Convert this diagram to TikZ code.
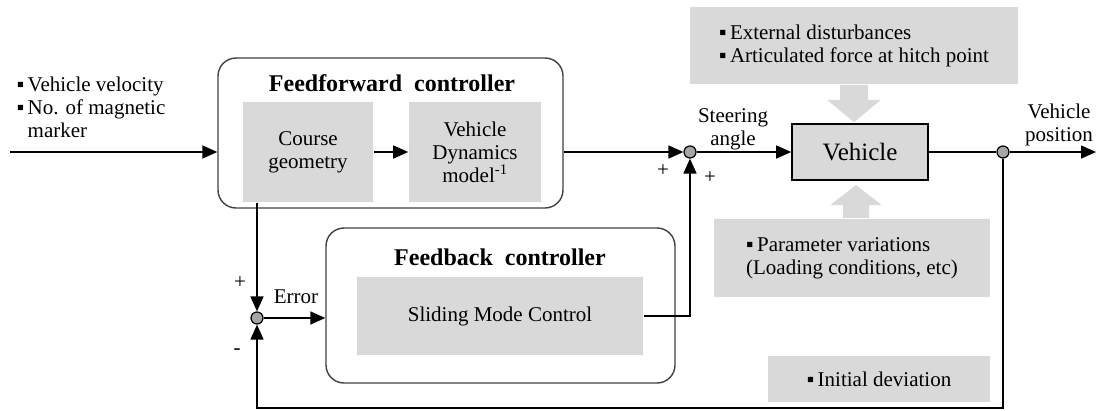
\documentclass[tikz,border=0pt]{standalone}
\usepackage{fontspec}
\setmainfont{Liberation Serif}
\usetikzlibrary{arrows.meta,calc}
\definecolor{boxgray}{RGB}{217,217,217}
\definecolor{sumgray}{RGB}{166,166,166}
\definecolor{edgegray}{RGB}{64,64,64}

\begin{document}
\begin{tikzpicture}
  [x=1pt,y=-1pt,line width=1.6pt,>={Triangle[length=15pt,width=13pt]},
   every node/.style={font=\fontsize{21}{23}\selectfont,inner sep=0pt},
   roundbox/.style={draw=edgegray,line width=1.4pt,rounded corners=18pt},
   graybox/.style={fill=boxgray,align=center},
   title/.style={font=\fontsize{24}{26}\selectfont\bfseries},
   sumpt/.style={circle,draw,fill=sumgray,line width=1.2pt,minimum size=12pt}]
  \useasboundingbox (0,0) rectangle (1096,410);

  % controllers
  \node [roundbox,minimum width=345pt,minimum height=150pt] (ff) at (390.5,133) {};
  \node [title] (fftitle) at (392,83) {Feedforward\ \ controller};
  \node [graybox,minimum width=130pt,minimum height=100pt] (course) at (308,152) {Course\\geometry};
  \node [graybox,minimum width=132pt,minimum height=100pt] (vdm) at (475,152) {Vehicle\\Dynamics\\model\textsuperscript{-1}};
  \node [roundbox,minimum width=349pt,minimum height=155pt] (fb) at (500.5,305.5) {};
  \node [title] (fbtitle) at (500,257) {Feedback\ \ controller};
  \node [graybox,minimum width=286pt,minimum height=78pt] (smc) at (500,316) {Sliding Mode Control};

  % plant and disturbances
  \node [graybox,draw,line width=1.6pt,minimum width=136pt,minimum height=56pt,font=\fontsize{25}{28}\selectfont] (veh) at (860,152) {Vehicle};
  \node [graybox,align=left,minimum width=328pt,minimum height=77pt] (dist) at (854,45.5) {▪\,External disturbances\\▪\,Articulated force at hitch point};
  \node [graybox,align=left,minimum width=276pt,minimum height=78pt] (param) at (852,258) {▪\,Parameter variations\\(Loading conditions, etc)};
  \node [graybox,minimum width=222pt,minimum height=46pt] (init) at (879,379) {▪\,Initial deviation};

  \node [sumpt] (sum1) at (690,152) {};
  \node [sumpt] (out) at (1003,152) {};
  \node [sumpt] (err) at (257,318) {};
  \coordinate (in) at (10,152);
  \coordinate (outend) at (1096,152);
  \coordinate (fbR) at (1003,408);
  \coordinate (fbL) at (257,408);

  % labels
  \node [align=left,anchor=west] (inputs) at (16,107) {▪\,Vehicle velocity\\▪\,No. of magnetic\\\phantom{▪\,}marker};
  \node [align=center] (steer) at (733,129) {Steering\\angle};
  \node [align=center] (vpos) at (1059,125) {Vehicle\\position};
  \node (errlbl) at (296,297) {Error};
  \node (p1) at (663,171) {+};
  \node (p2) at (710,178) {+};
  \node (p3) at (240,283) {+};
  \node (m1) at (237,352) {-};

  % thick gray arrows
  \fill [boxgray] ($(dist.south)+(-14,0)$) -- ++(0,15) -- ++(-13,0) -- ($(dist.south |- veh.north)+(0,-1)$)
    -- ($(dist.south)+(27,15)$) -- ++(-13,0) -- ++(0,-15) -- cycle;
  \fill [boxgray] ($(param.north)+(-9,0)$) -- ++(0,-13) -- ++(-13,0) -- ($(param.north)+(4,-33)$)
    -- ($(param.north)+(30,-13)$) -- ++(-13,0) -- ++(0,13) -- cycle;

  % signal lines
  \foreach \from/\to in {course/vdm,sum1/veh,out/outend}
    \draw [->] (\from) -- (\to);
  \draw [->] (in) -- (in -| ff.west);
  \draw [->] (sum1 -| ff.east) -- (sum1);
  \draw (veh) -- (out);
  \draw [->] (out) -- (fbR) -- (fbL) -- (err);
  \draw [->] (err |- course.south) -- (err);
  \draw [->] (err) -- (err -| fb.west);
  \draw [->] (smc.east) -- (smc.east -| sum1) -- (sum1);

\end{tikzpicture}
\end{document}
